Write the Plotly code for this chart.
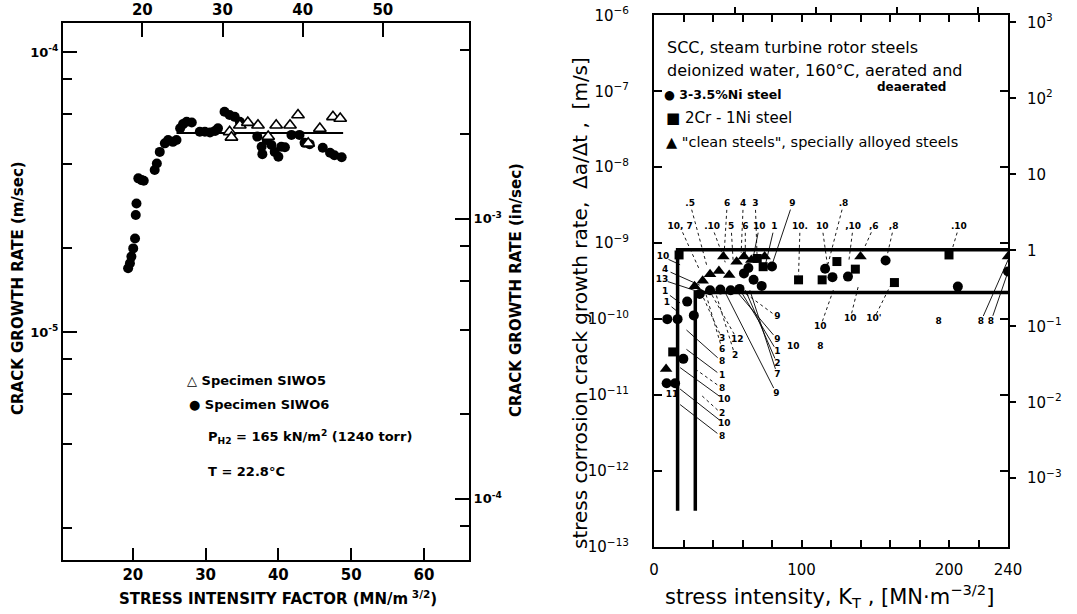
import math
import plotly.graph_objects as go

W, H = 1077, 614

# ---------------- Left panel data (K in MN/m^3/2, rate in m/sec) ----------------
siwo6_k = [19.35, 19.6, 19.8, 20.05, 20.3, 20.4, 20.5, 20.75, 21.2, 21.5, 23.0, 23.3, 23.7,
           24.4, 24.85, 25.5, 26.0, 26.5, 26.9, 27.4, 28.1, 29.2, 29.9, 30.6, 31.3, 31.7,
           32.6, 33.3, 34.0, 34.7, 37.1, 37.7, 37.8, 38.4, 39.05, 39.5, 40.0, 40.4, 40.9,
           41.8, 42.9, 43.6, 44.3, 46.1, 47.1, 47.7, 48.7]
siwo6_rate = [1.69e-5, 1.76e-5, 1.86e-5, 1.99e-5, 2.16e-5, 2.62e-5, 2.88e-5, 3.54e-5, 3.49e-5,
              3.47e-5, 3.79e-5, 4.0e-5, 4.4e-5, 4.72e-5, 4.85e-5, 4.78e-5, 4.85e-5, 5.34e-5,
              5.53e-5, 5.64e-5, 5.6e-5, 5.19e-5, 5.19e-5, 5.16e-5, 5.23e-5, 5.34e-5, 6.12e-5,
              5.96e-5, 5.87e-5, 5.64e-5, 4.99e-5, 4.59e-5, 4.32e-5, 4.85e-5, 4.66e-5, 4.4e-5,
              4.23e-5, 4.59e-5, 4.57e-5, 5.06e-5, 5.06e-5, 4.74e-5, 4.69e-5, 4.55e-5, 4.37e-5,
              4.28e-5, 4.21e-5]
siwo5_k = [33.3, 33.55, 34.7, 35.8, 37.2, 38.6, 39.7, 41.6, 42.7, 44.1, 45.7, 47.5, 48.5]
siwo5_rate = [5.19e-5, 4.96e-5, 5.48e-5, 5.6e-5, 5.48e-5, 4.99e-5, 5.48e-5, 5.48e-5, 5.96e-5,
              4.72e-5, 5.33e-5, 5.87e-5, 5.79e-5]
mean_k = [26.0, 48.9]
mean_rate = [5.14e-5, 5.14e-5]

left_bottom_ticks = [20, 30, 40, 50, 60]
left_top_ticks = [20, 30, 40, 50]
left_y_major = [1e-5, 1e-4]
left_y_major_text = ["10<sup>-5</sup>", "10<sup>-4</sup>"]
left_y_minor = [2e-6, 4e-6, 6e-6, 8e-6, 2e-5, 4e-5, 6e-5, 8e-5]
left_y2_major = [1e-4, 1e-3]
left_y2_major_text = ["10<sup>-4</sup>", "10<sup>-3</sup>"]
left_y2_minor = [8e-5, 2e-4, 4e-4, 6e-4, 8e-4, 2e-3, 4e-3]

# ---------------- Right panel data (K in MN m^-3/2, rate in m/s) ----------------
ni_k = [8.6, 14.3, 19.9, 9.0, 16.0, 27.0, 22.5, 31.0, 38.0, 45.0, 52.0, 58.0, 64.0, 61.0,
        67.5, 73.0, 80.0, 116.0, 121.0, 131.5, 157.0, 206.0, 240.0]
ni_rate = [1.43e-11, 1.43e-11, 3.0e-11, 1.0e-10, 1.0e-10, 1.12e-10, 1.7e-10, 2.15e-10,
           2.4e-10, 2.45e-10, 2.4e-10, 2.5e-10, 4.7e-10, 4.0e-10, 3.3e-10, 2.74e-10,
           4.92e-10, 4.6e-10, 3.57e-10, 3.63e-10, 5.9e-10, 2.68e-10, 4.24e-10]
crni_k = [17.0, 12.7, 70.0, 74.0, 98.0, 114.0, 124.0, 136.5, 163.0, 200.0]
crni_rate = [7.0e-10, 3.7e-11, 6.3e-10, 4.9e-10, 3.29e-10, 3.29e-10, 5.73e-10, 4.55e-10,
             3.03e-10, 7.0e-10]
clean_k = [8.2, 27.5, 33.0, 38.0, 44.0, 47.0, 51.0, 56.0, 61.0, 66.0, 75.0, 140.0, 240.0]
clean_rate = [2.2e-11, 2.7e-10, 3.2e-10, 3.9e-10, 4.3e-10, 6.67e-10, 3.8e-10, 5.7e-10,
              6.67e-10, 6.0e-10, 6.67e-10, 6.67e-10, 6.67e-10]

upper_band_k = [16.0, 16.0, 240.0]
upper_band_rate = [3.0e-13, 8.2e-10, 8.2e-10]
lower_band_k = [28.0, 28.0, 240.0]
lower_band_rate = [3.0e-13, 2.24e-10, 2.24e-10]

# specimen-number labels with leader targets (None = no leader)
label_text = [".5", "6", "4", "3", "9", ".8",
              "10, 7", ".10", "5", "6", "10", "1", "10.", "10", ",10", ",6", ",8", ".10",
              "10", "4", "13", "1", "1",
              "9", "10", "10", "10'", "8", "8", "8",
              "3", "12", "9", "10", "8", "6", "2", "1", "8", "2", "7", "1", "8", "10", "9",
              "2", "10", "8", "11"]
label_k = [24.5, 49.6, 60.5, 68.7, 93.8, 128.5,
           17.7, 39.4, 52.3, 61.9, 71.4, 81.6, 99.0, 114.0, 135.0, 149.0, 162.5, 206.7,
           6.1, 7.5, 5.4, 7.5, 8.8,
           83.6, 112.8, 133.0, 149.0, 193.0, 221.6, 228.4,
           46.2, 56.4, 83.6, 94.5, 112.8, 46.2, 55.0, 83.6, 46.2, 83.6, 83.6, 46.2, 46.2,
           47.6, 83.0, 46.2, 47.6, 46.2, 12.2]
label_rate = [3.29e-9, 3.29e-9, 3.29e-9, 3.29e-9, 3.29e-9, 3.29e-9,
              1.64e-9, 1.64e-9, 1.64e-9, 1.64e-9, 1.64e-9, 1.64e-9, 1.64e-9, 1.64e-9,
              1.64e-9, 1.64e-9, 1.64e-9, 1.64e-9,
              6.6e-10, 4.47e-10, 3.31e-10, 2.29e-10, 1.62e-10,
              1.07e-10, 7.9e-11, 1.0e-10, 1.0e-10, 9.3e-11, 9.3e-11, 9.3e-11,
              5.5e-11, 5.4e-11, 5.4e-11, 4.3e-11, 4.3e-11, 4.0e-11, 3.3e-11, 3.7e-11,
              2.75e-11, 2.57e-11, 1.86e-11, 1.78e-11, 1.23e-11, 8.7e-12, 1.05e-11,
              5.6e-12, 4.2e-12, 2.8e-12, 1.0e-11]
leader_k = [36.0, 47.6, 59.1, 70.0, 80.0, 117.0,
            31.0, 48.3, 53.7, 61.9, 66.6, 75.5, 98.0, 118.0, 132.0, 140.0, 157.0, 201.0,
            17.7, 31.0, 30.0, 17.7, 15.0,
            58.5, 121.7, 138.7, 160.0, None, 240.0, 240.0,
            31.0, 38.0, 55.0, None, None, 34.7, 41.5, 58.5, 22.0, 62.0, 65.0, 22.0, 28.0,
            17.7, 48.0, 32.0, 17.7, 17.7, None]
leader_rate = [4.9e-10, 7.5e-10, 7.5e-10, 5.7e-10, 5.2e-10, 4.5e-10,
               4.4e-10, 5.6e-10, 5.6e-10, 7.2e-10, 5.6e-10, 5.2e-10, 3.8e-10, 4.5e-10,
               5.6e-10, 6.7e-10, 5.6e-10, 7.0e-10,
               5.2e-10, 2.8e-10, 2.3e-10, 1.63e-10, 1.3e-10,
               2.45e-10, 2.45e-10, 2.8e-10, 2.7e-10, None, 6.0e-10, 4.2e-10,
               2.45e-10, 2.3e-10, 2.45e-10, None, None, 2.3e-10, 2.3e-10, 2.4e-10,
               7.2e-11, 2.4e-10, 2.4e-10, 4.0e-11, 2.2e-11, 2.3e-11, 2.3e-10,
               1.0e-11, 1.2e-11, 7.5e-12, None]
leader_solid = [False, False, False, False, True, False,
                False, False, False, False, True, True, False, False, False, False, False, False,
                True, True, True, True, True,
                False, False, False, False, False, True, True,
                False, False, True, False, False, False, False, True, True, True, True,
                True, False, True, True, False, True, True, False]

right_x_major = [0, 100, 200, 240]
right_x_major_text = ["0", "100", "200", "240"]
right_x_minor = [20, 40, 60, 80, 120, 140, 160, 180, 220]
right_y_ticks = [1e-13, 1e-12, 1e-11, 1e-10, 1e-9, 1e-8, 1e-7, 1e-6]
right_y_text = ["10<sup>−13</sup>", "10<sup>−12</sup>", "10<sup>−11</sup>", "10<sup>−10</sup>",
                "10<sup>−9</sup>", "10<sup>−8</sup>", "10<sup>−7</sup>", "10<sup>−6</sup>"]
inyr_ticks = [1e-3, 1e-2, 1e-1, 1, 10, 100, 1000]
inyr_text = ["10<sup>−3</sup>", "10<sup>−2</sup>", "10<sup>−1</sup>", "1", "10",
             "10<sup>2</sup>", "10<sup>3</sup>"]
ksi_ticks = [50, 100, 150, 200]

M_TO_IN = 39.37
MS_TO_INYR = 39.37 * 3.156e7
KSI = 1.0988


def pxx(x):
    return x / W


def pxy(y):
    return 1 - y / H


fig = go.Figure()

# ---- left panel ----
fig.add_trace(go.Scatter(x=mean_k, y=mean_rate, mode="lines", line=dict(color="black", width=2),
                         xaxis="x", yaxis="y", hoverinfo="skip"))
fig.add_trace(go.Scatter(x=siwo6_k, y=siwo6_rate, mode="markers", xaxis="x", yaxis="y",
                         marker=dict(symbol="circle", size=10, color="black")))
fig.add_trace(go.Scatter(x=siwo5_k, y=siwo5_rate, mode="markers", xaxis="x", yaxis="y",
                         marker=dict(symbol="triangle-up", size=11, color="white",
                                     line=dict(color="black", width=1.6))))
fig.add_trace(go.Scatter(x=[], y=[], xaxis="x3", yaxis="y", hoverinfo="skip"))
fig.add_trace(go.Scatter(x=[], y=[], xaxis="x", yaxis="y3", hoverinfo="skip"))

# ---- right panel leaders ----
def leaders(solid):
    xs, ys = [], []
    for lk, lr, tk, tr, s in zip(label_k, label_rate, leader_k, leader_rate, leader_solid):
        if tk is None or s != solid:
            continue
        dx = (tk - lk) * 1.471
        dy = (math.log10(tr) - math.log10(lr)) * 76
        L = math.hypot(dx, dy)
        f = min(6.0 / L, 0.5) if L > 0 else 0
        sk = lk + (tk - lk) * f
        sr = 10 ** (math.log10(lr) + (math.log10(tr) - math.log10(lr)) * f)
        xs += [sk, tk, None]
        ys += [sr, tr, None]
    return xs, ys

sx, sy = leaders(True)
dx_, dy_ = leaders(False)
fig.add_trace(go.Scatter(x=sx, y=sy, mode="lines", line=dict(color="black", width=0.9),
                         xaxis="x2", yaxis="y2", hoverinfo="skip"))
fig.add_trace(go.Scatter(x=dx_, y=dy_, mode="lines", line=dict(color="black", width=0.9, dash="dot"),
                         xaxis="x2", yaxis="y2", hoverinfo="skip"))
fig.add_trace(go.Scatter(x=upper_band_k, y=upper_band_rate, mode="lines",
                         line=dict(color="black", width=3.5), xaxis="x2", yaxis="y2"))
fig.add_trace(go.Scatter(x=lower_band_k, y=lower_band_rate, mode="lines",
                         line=dict(color="black", width=3.5), xaxis="x2", yaxis="y2"))
fig.add_trace(go.Scatter(x=ni_k, y=ni_rate, mode="markers", xaxis="x2", yaxis="y2",
                         marker=dict(symbol="circle", size=10, color="black")))
fig.add_trace(go.Scatter(x=crni_k, y=crni_rate, mode="markers", xaxis="x2", yaxis="y2",
                         marker=dict(symbol="square", size=9, color="black")))
fig.add_trace(go.Scatter(x=clean_k, y=clean_rate, mode="markers", xaxis="x2", yaxis="y2",
                         marker=dict(symbol="triangle-up", size=11, color="black")))
fig.add_trace(go.Scatter(x=label_k, y=label_rate, mode="text", text=label_text,
                         textfont=dict(family="DejaVu Sans", size=9, color="black", weight="bold"),
                         xaxis="x2", yaxis="y2", hoverinfo="skip"))
fig.add_trace(go.Scatter(x=[], y=[], xaxis="x4", yaxis="y2", hoverinfo="skip"))
fig.add_trace(go.Scatter(x=[], y=[], xaxis="x2", yaxis="y4", hoverinfo="skip"))

bold = dict(family="DejaVu Sans", size=14, color="black", weight="bold")
reg = dict(family="DejaVu Sans", size=14, color="black")
common = dict(showgrid=False, zeroline=False, automargin=False, linecolor="black",
              tickcolor="black", ticklabeloverflow="allow")

l_rng = [math.log10(1.535e-6), math.log10(1.27e-4)]
r_rng = [-13, -6]
fig.update_layout(
    width=W, height=H, margin=dict(l=0, r=0, t=0, b=0), template="none",
    paper_bgcolor="white", plot_bgcolor="white", showlegend=False,
    xaxis=dict(domain=[pxx(63), pxx(469)], range=[10.4, 66.2], anchor="y",
               tickmode="array", tickvals=left_bottom_ticks, ticks="inside", ticklen=12,
               tickwidth=1.5, showline=True, linewidth=2, tickfont=dict(bold, size=15), **common),
    xaxis3=dict(overlaying="x", side="top", anchor="y", range=[10.1, 60.75],
                tickmode="array", tickvals=left_top_ticks, ticks="inside", ticklen=14,
                tickwidth=1.5, showline=True, linewidth=2, tickfont=dict(bold, size=15), **common),
    yaxis=dict(domain=[pxy(560), pxy(23)], type="log", range=l_rng, anchor="x",
               tickmode="array", tickvals=left_y_major, ticktext=left_y_major_text,
               ticks="inside", ticklen=14, tickwidth=1.5, showline=True, linewidth=2,
               minor=dict(tickmode="array", tickvals=left_y_minor, ticks="inside", ticklen=9,
                          tickwidth=1.5, tickcolor="black", showgrid=False),
               tickfont=dict(bold, size=13), **common),
    yaxis3=dict(overlaying="y", side="right", anchor="x", type="log",
                range=[l_rng[0] + math.log10(M_TO_IN), l_rng[1] + math.log10(M_TO_IN)],
                tickmode="array", tickvals=left_y2_major, ticktext=left_y2_major_text,
                ticks="inside", ticklen=14, tickwidth=1.5, showline=True, linewidth=2,
                minor=dict(tickmode="array", tickvals=left_y2_minor, ticks="inside", ticklen=9,
                           tickwidth=1.5, tickcolor="black", showgrid=False),
                tickfont=dict(bold, size=13), **common),
    xaxis2=dict(domain=[pxx(654), pxx(1008)], range=[0, 240], anchor="y2",
                tickmode="array", tickvals=right_x_major, ticktext=right_x_major_text,
                ticks="inside", ticklen=7, tickwidth=1.5, mirror="ticks", showline=True,
                linewidth=2, ticklabelstandoff=8, tickfont=dict(reg, size=15),
                minor=dict(tickmode="array", tickvals=right_x_minor, ticks="inside", ticklen=7,
                           tickwidth=1.5, tickcolor="black", showgrid=False),
                **common),
    xaxis4=dict(overlaying="x2", side="top", anchor="y2", range=[0, 240 / KSI],
                tickmode="array", tickvals=ksi_ticks, ticks="outside", ticklen=7, tickwidth=1.5,
                showticklabels=False, showline=False, **common),
    yaxis2=dict(domain=[pxy(547), pxy(15.3)], type="log", range=r_rng, anchor="x2",
                tickmode="array", tickvals=right_y_ticks, ticktext=right_y_text, ticks="inside",
                ticklen=8, tickwidth=1.5, mirror="ticks", showline=True, linewidth=2,
                ticklabelstandoff=20, tickfont=dict(reg, size=15), **common),
    yaxis4=dict(overlaying="y2", side="right", anchor="x2", type="log",
                range=[r_rng[0] + math.log10(MS_TO_INYR), r_rng[1] + math.log10(MS_TO_INYR)],
                tickmode="array", tickvals=inyr_ticks, ticktext=inyr_text, ticks="outside",
                ticklen=7, tickwidth=1.5, showline=False, ticklabelstandoff=8,
                tickfont=dict(reg, size=15), **common),
)

ann = []
def A(text, x, y, font, xanchor="left", angle=0):
    ann.append(dict(text=text, x=pxx(x), y=pxy(y), xref="paper", yref="paper",
                    showarrow=False, xanchor=xanchor, yanchor="middle", textangle=angle,
                    font=font))

# left panel texts
A("CRACK GROWTH RATE (m/sec)", 18, 288, dict(bold, size=15), "center", -90)
A("CRACK GROWTH RATE (in/sec)", 516, 290, dict(bold, size=15), "center", -90)
A("STRESS INTENSITY FACTOR (MN/m<sup> 3/2</sup>)", 278, 598, dict(bold, size=15), "center")
A("△ Specimen SIWO5", 185, 380, dict(bold, size=13))
A("● Specimen SIWO6", 187, 404, dict(bold, size=13))
A("P<sub>H2</sub> = 165 kN/m<sup>2</sup> (1240 torr)", 206, 437, dict(bold, size=13))
A("T = 22.8°C", 206, 471, dict(bold, size=13))

# right panel texts
A("SCC, steam turbine rotor steels", 665, 47, dict(reg, size=16))
A("deionized water, 160°C, aerated and", 665, 70, dict(reg, size=16))
A("deaerated", 875, 87, dict(bold, size=12))
A("● 3-3.5%Ni steel", 662, 94, dict(bold, size=12.5))
A("■ 2Cr - 1Ni steel", 664, 118, dict(reg, size=15))
A("▲ \"clean steels\", specially alloyed steels", 664, 142, dict(reg, size=14.5))
A("stress corrosion crack growth rate,  Δa/Δt ,  [m/s]", 580, 303, dict(reg, size=20),
  "center", -90)
A("stress intensity, K<sub>T</sub> , [MN·m<sup>−3/2</sup>]", 829, 596, dict(reg, size=21),
  "center")

fig.update_layout(annotations=ann)
fig.write_html("out.html", config={"displayModeBar": False},
               post_script="document.body.style.margin='0';document.body.style.overflow='hidden';")
